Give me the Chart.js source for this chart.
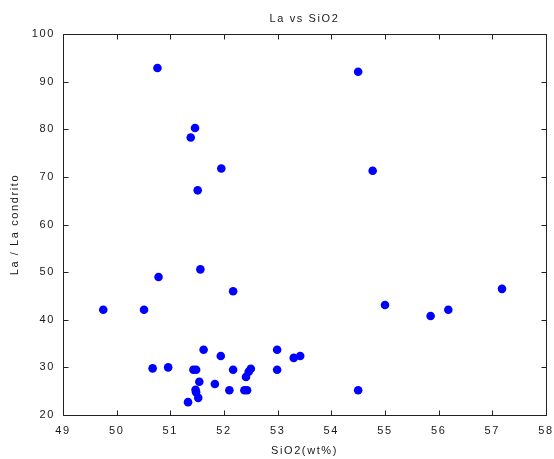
<!DOCTYPE html>
<html>
<head>
<meta charset="utf-8">
<script src="https://cdn.jsdelivr.net/npm/chart.js@4.4.1/dist/chart.umd.min.js"></script>
<style>
  html, body { margin: 0; padding: 0; background: #fff; }
  #wrap { width: 554px; height: 459px; }
</style>
</head>
<body>
<div id="wrap"><canvas id="c" width="554" height="459"></canvas></div>
<script>
// ---- data ----
const sio2 = [50.76, 54.5, 51.46, 51.38, 51.95, 54.77, 51.51, 51.56, 50.78, 52.17,
              57.18, 55.0, 55.85, 56.18, 49.75, 50.51, 51.62, 51.94, 52.99, 53.3,
              53.42, 50.67, 50.96, 51.43, 51.48, 52.17, 52.5, 52.46, 52.41, 52.99,
              51.54, 51.83, 51.47, 51.48, 52.1, 52.38, 52.43, 51.52, 51.33, 54.5];
const laRatio = [92.9, 92.1, 80.3, 78.3, 71.8, 71.3, 67.2, 50.6, 49.0, 46.0,
                 46.5, 43.1, 40.8, 42.1, 42.1, 42.1, 33.7, 32.4, 33.7, 32.0,
                 32.4, 29.8, 30.0, 29.5, 29.5, 29.5, 29.7, 29.1, 28.0, 29.5,
                 27.0, 26.5, 25.3, 24.8, 25.2, 25.2, 25.2, 23.6, 22.7, 25.2];
const xTicks = [49, 50, 51, 52, 53, 54, 55, 56, 57, 58];
const yTicks = [20, 30, 40, 50, 60, 70, 80, 90, 100];
const titleText = 'La vs SiO2';
const xTitle = 'SiO2(wt%)';
const yTitle = 'La / La condrito';

const points = sio2.map((x, i) => ({ x: x, y: laRatio[i] }));
const FONT = { family: '"Liberation Sans", Arial, Helvetica, sans-serif', size: 11 };
const TXT = '#1a1a1a';

const spacingPlugin = {
  id: 'spacing',
  beforeLayout(chart) { chart.ctx.letterSpacing = '1.6px'; },
  beforeDraw(chart) { chart.ctx.letterSpacing = '1.6px'; }
};

const framePlugin = {
  id: 'frame',
  afterDatasetsDraw(chart) {
    const { ctx, chartArea: a, scales } = chart;
    ctx.save();
    ctx.strokeStyle = '#222';
    ctx.lineWidth = 1;
    ctx.beginPath();
    const L = Math.round(a.left) + 0.5, R = Math.round(a.right) + 0.5;
    const T = Math.round(a.top) + 0.5, B = Math.round(a.bottom) + 0.5;
    ctx.rect(L, T, R - L, B - T);
    const len = 5;
    xTicks.forEach(v => {
      const px = Math.round(scales.x.getPixelForValue(v)) + 0.5;
      ctx.moveTo(px, B); ctx.lineTo(px, B - len);
      ctx.moveTo(px, T); ctx.lineTo(px, T + len);
    });
    yTicks.forEach(v => {
      const py = Math.round(scales.y.getPixelForValue(v)) + 0.5;
      ctx.moveTo(L, py); ctx.lineTo(L + len, py);
      ctx.moveTo(R, py); ctx.lineTo(R - len, py);
    });
    ctx.stroke();
    ctx.restore();
  }
};

new Chart(document.getElementById('c'), {
  type: 'scatter',
  data: {
    datasets: [{
      data: points,
      backgroundColor: '#0000ff',
      borderColor: '#0000ff',
      borderWidth: 0,
      pointRadius: 4.3,
      pointHoverRadius: 4.3
    }]
  },
  options: {
    responsive: false,
    animation: false,
    events: [],
    layout: { padding: { left: 0, right: 8, top: 0, bottom: 0 } },
    plugins: {
      legend: { display: false },
      tooltip: { enabled: false },
      title: {
        display: true,
        fullSize: false,
        text: titleText,
        color: TXT,
        font: { family: FONT.family, size: 11, weight: 'normal' },
        padding: { top: 12, bottom: 9 }
      }
    },
    scales: {
      x: {
        type: 'linear',
        min: 49, max: 58,
        afterBuildTicks(scale) { scale.ticks = xTicks.map(v => ({ value: v })); },
        afterFit(scale) { scale.height = 44; scale.paddingLeft = 0; scale.paddingRight = 0; },
        grid: { display: false, drawTicks: false },
        border: { display: false },
        ticks: { color: TXT, font: FONT, padding: 9, maxRotation: 0, autoSkip: false },
        title: { display: true, text: xTitle, color: TXT, font: FONT, padding: { top: 0, bottom: 1 } }
      },
      y: {
        type: 'linear',
        min: 20, max: 100,
        afterBuildTicks(scale) { scale.ticks = yTicks.map(v => ({ value: v })); },
        afterFit(scale) { scale.width = 63; scale.paddingTop = 0; scale.paddingBottom = 0; },
        grid: { display: false, drawTicks: false },
        border: { display: false },
        ticks: { color: TXT, font: FONT, padding: 8, autoSkip: false },
        title: { display: true, text: yTitle, color: TXT, font: FONT, padding: { top: 8, bottom: 0 } }
      }
    }
  },
  plugins: [spacingPlugin, framePlugin]
});
</script>
</body>
</html>
